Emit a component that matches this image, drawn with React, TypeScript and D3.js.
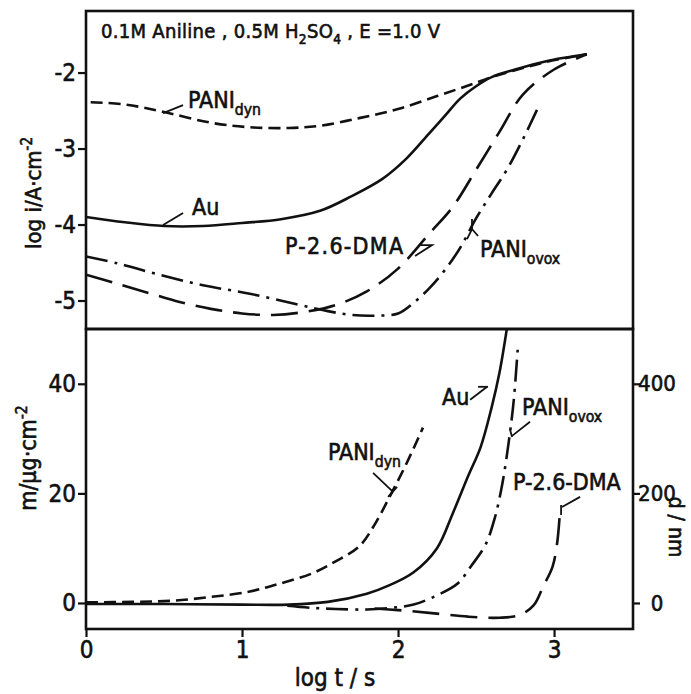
import React, { useEffect, useRef } from 'react';
import * as d3 from 'd3';

// upper panel: log i / A cm-2 against log t / s
const auTopT = [0, 0.25, 0.5, 0.75, 1.0, 1.25, 1.5, 1.7, 1.9, 2.05, 2.2, 2.3, 2.4, 2.5, 2.6, 2.75, 2.95, 3.21];
const auTopI = [-3.9, -3.97, -4.02, -4.02, -3.98, -3.93, -3.82, -3.63, -3.4, -3.14, -2.8, -2.57, -2.34, -2.18, -2.06, -1.96, -1.85, -1.76];

const dynTopT = [0.03, 0.25, 0.5, 0.8, 1.05, 1.3, 1.5, 1.75, 2.0, 2.25, 2.45, 2.6, 2.75, 2.95, 3.21];
const dynTopI = [-2.39, -2.42, -2.52, -2.66, -2.72, -2.73, -2.7, -2.6, -2.48, -2.31, -2.17, -2.06, -1.97, -1.86, -1.76];

const dmaTopT = [0, 0.2, 0.4, 0.6, 0.8, 1.0, 1.2, 1.4, 1.6, 1.8, 2.0, 2.2, 2.35, 2.5, 2.65, 2.8, 3.0, 3.21];
const dmaTopI = [-4.66, -4.78, -4.9, -5.02, -5.11, -5.17, -5.19, -5.15, -5.06, -4.88, -4.58, -4.12, -3.77, -3.28, -2.78, -2.29, -1.96, -1.76];

const ovoxTopT = [0, 0.2, 0.45, 0.75, 1.05, 1.35, 1.55, 1.7, 1.85, 2.0, 2.1, 2.2, 2.3, 2.4, 2.5, 2.6, 2.7, 2.8, 2.9];
const ovoxTopI = [-4.42, -4.51, -4.65, -4.8, -4.91, -5.05, -5.14, -5.19, -5.2, -5.17, -5.03, -4.84, -4.6, -4.3, -3.92, -3.59, -3.27, -2.88, -2.45];

// lower panel: m / ug cm-2 against log t / s
const auBotT = [0, 0.5, 1.0, 1.3, 1.55, 1.8, 1.95, 2.1, 2.25, 2.35, 2.45, 2.53, 2.6, 2.65, 2.7];
const auBotM = [-0.2, -0.2, -0.3, -0.3, 0.2, 1.7, 3.3, 5.6, 10.0, 16.3, 23.2, 28.5, 35.7, 42.0, 50.5];

const dynBotT = [0, 0.3, 0.55, 0.8, 1.05, 1.25, 1.45, 1.6, 1.75, 1.85, 1.95, 2.05, 2.16];
const dynBotM = [0.1, 0.2, 0.4, 1.1, 2.1, 3.6, 5.4, 7.6, 10.3, 14.3, 19.6, 25.2, 32.0];

const ovoxBotT = [1.29, 1.45, 1.6, 1.8, 1.95, 2.1, 2.25, 2.38, 2.47, 2.56, 2.62, 2.67, 2.71, 2.74, 2.77];
const ovoxBotM = [-0.5, -0.9, -1.1, -1.2, -0.9, -0.3, 1.4, 3.5, 6.8, 10.6, 15.5, 22.0, 29.5, 36.5, 47.5];

const dmaBotT = [1.85, 2.0, 2.2, 2.45, 2.65, 2.78, 2.87, 2.93, 2.99, 3.02, 3.04];
const dmaBotM = [-1.0, -1.3, -1.8, -2.5, -2.7, -2.2, -0.4, 3.0, 6.6, 11.0, 17.5];

const xTicks = [0, 1, 2, 3];
const topTicks = [-2, -3, -4, -5];
const botTicks = [0, 20, 40];
const rightTicks = [0, 200, 400];

const FONT = "'DejaVu Sans Condensed', 'Liberation Sans Narrow', sans-serif";
const SHORT = '12,6';
const LONG = '27,11';
const DASHDOT = '22,7,3,7';

type Part = [string, string];

function addText(g, px, py, parts: Part[], size, anchor = 'start') {
  const t = g
    .append('text')
    .attr('x', px)
    .attr('y', py)
    .attr('font-family', FONT)
    .attr('font-size', size)
    .attr('text-anchor', anchor)
    .attr('fill', '#111')
    .attr('stroke', '#111')
    .attr('stroke-width', 0.6);
  let off = 0;
  parts.forEach(([s, kind]) => {
    const target = kind === 'sub' ? size * 0.3 : kind === 'sup' ? -size * 0.4 : 0;
    t.append('tspan')
      .attr('dy', target - off)
      .attr('font-size', kind === 'n' ? size : size * 0.68)
      .text(s);
    off = target;
  });
  return t;
}

const App = () => {
  const svgRef = useRef(null);

  useEffect(() => {
    const svg = d3.select(svgRef.current);
    svg.selectAll('*').remove();

    const x = d3.scaleLinear().domain([0, 3.506]).range([86, 633]);
    const yTop = d3.scaleLinear().domain([-5.375, -1.19]).range([329, 11]);
    const yBot = d3.scaleLinear().domain([-4.75, 50]).range([629, 329]);
    const yRight = d3.scaleLinear().domain([-47.5, 500]).range([629, 329]);

    const defs = svg.append('defs');
    defs.append('clipPath').attr('id', 'clipTop').append('rect')
      .attr('x', 86).attr('y', 11).attr('width', 547).attr('height', 318);
    defs.append('clipPath').attr('id', 'clipBot').append('rect')
      .attr('x', 86).attr('y', 329).attr('width', 547).attr('height', 300);

    const curve = (g, ts, vs, ys, dash) => {
      const line = d3
        .line()
        .x((d) => x(d[0]))
        .y((d) => ys(d[1]))
        .curve(d3.curveCatmullRom.alpha(0.5));
      g.append('path')
        .attr('d', line(ts.map((t, i) => [t, vs[i]])))
        .attr('fill', 'none')
        .attr('stroke', '#111')
        .attr('stroke-width', 2.6)
        .attr('stroke-dasharray', dash)
        .attr('stroke-linejoin', 'round');
    };

    const leader = (g, pts, ys) => {
      g.append('path')
        .attr('d', d3.line().x((d) => x(d[0])).y((d) => ys(d[1]))(pts))
        .attr('fill', 'none')
        .attr('stroke', '#111')
        .attr('stroke-width', 1.8);
    };

    // curves
    const gTop = svg.append('g').attr('clip-path', 'url(#clipTop)');
    curve(gTop, dynTopT, dynTopI, yTop, SHORT);
    curve(gTop, auTopT, auTopI, yTop, null);
    curve(gTop, dmaTopT, dmaTopI, yTop, LONG);
    curve(gTop, ovoxTopT, ovoxTopI, yTop, DASHDOT);

    const gBot = svg.append('g').attr('clip-path', 'url(#clipBot)');
    curve(gBot, dynBotT, dynBotM, yBot, SHORT);
    curve(gBot, auBotT, auBotM, yBot, null);
    curve(gBot, ovoxBotT, ovoxBotM, yBot, DASHDOT);
    curve(gBot, dmaBotT, dmaBotM, yBot, LONG);

    // frames
    [[11, 329], [329, 629]].forEach(([a, b]) => {
      svg.append('rect')
        .attr('x', 86).attr('y', a).attr('width', 547).attr('height', b - a)
        .attr('fill', 'none').attr('stroke', '#111').attr('stroke-width', 2.6);
    });

    // axes
    const styleAxis = (g) => {
      g.select('.domain').remove();
      g.selectAll('line').attr('stroke', '#111').attr('stroke-width', 2.2);
      g.selectAll('text')
        .attr('font-family', FONT)
        .attr('font-size', 24)
        .attr('fill', '#111')
        .attr('stroke', '#111')
        .attr('stroke-width', 0.6);
    };
    svg.append('g').attr('transform', 'translate(86,0)')
      .call(d3.axisLeft(yTop).tickValues(topTicks).tickSize(8).tickPadding(2).tickFormat((d) => String(d)))
      .call(styleAxis);
    svg.append('g').attr('transform', 'translate(86,0)')
      .call(d3.axisLeft(yBot).tickValues(botTicks).tickSize(8).tickPadding(2).tickFormat((d) => String(d)))
      .call(styleAxis);
    svg.append('g').attr('transform', 'translate(0,629)')
      .call(d3.axisBottom(x).tickValues(xTicks).tickSize(8).tickPadding(4).tickFormat((d) => String(d)))
      .call(styleAxis);
    svg.append('g').attr('transform', 'translate(633,0)')
      .call(d3.axisRight(yRight).tickValues(rightTicks).tickSize(7).tickPadding(2).tickFormat((d) => String(d)))
      .call(styleAxis)
      .call((g) => g.selectAll('text').attr('font-size', 22).attr('x', 24).attr('text-anchor', 'middle'));

    // axis titles
    addText(svg, 335, 686, [['log t / s', 'n']], 24, 'middle');
    addText(svg.append('g').attr('transform', 'translate(41,193) rotate(-90)'), 0, 0,
      [['log i/A·cm', 'n'], ['-2', 'sup']], 22, 'middle');
    addText(svg.append('g').attr('transform', 'translate(36,458) rotate(-90)'), 0, 0,
      [['m/µg·cm', 'n'], ['-2', 'sup']], 23, 'middle');
    addText(svg.append('g').attr('transform', 'translate(669,527) rotate(90)'), 0, 0,
      [['d / nm', 'n']], 21, 'middle');

    addText(svg, 101, 38, [['0.1M Aniline , 0.5M H', 'n'], ['2', 'sub'], ['SO', 'n'], ['4', 'sub'], [' , E =1.0 V', 'n']], 20)
      .attr('letter-spacing', 0.3);

    // annotations, upper panel
    addText(svg, x(0.654), yTop(-2.467), [['PANI', 'n'], ['dyn', 'sub']], 23);
    leader(svg, [[0.494, -2.533], [0.622, -2.428]], yTop);
    addText(svg, x(0.68), yTop(-3.875), [['Au', 'n']], 23);
    leader(svg, [[0.494, -4.007], [0.622, -3.849]], yTop);
    addText(svg, x(1.276), yTop(-4.39), [['P-2.6-DMA', 'n']], 23).attr('textLength', 118);
    leader(svg, [[2.135, -4.27], [2.218, -4.27], [2.109, -4.414]], yTop);
    addText(svg, x(2.526), yTop(-4.428), [['PANI', 'n'], ['ovox', 'sub']], 23);
    leader(svg, [[2.442, -4.191], [2.474, -4.059], [2.513, -4.151]], yTop);
    leader(svg, [[2.474, -4.059], [2.474, -3.928]], yTop);

    // annotations, lower panel
    addText(svg, x(2.282), yBot(36.16), [['Au', 'n']], 23);
    leader(svg, [[2.462, 37.08], [2.571, 39.45]], yBot);
    leader(svg, [[2.513, 39.45], [2.577, 39.45]], yBot);
    addText(svg, x(2.795), yBot(34.34), [['PANI', 'n'], ['ovox', 'sub']], 23);
    leader(svg, [[2.846, 33.06], [2.731, 30.5]], yBot);
    leader(svg, [[2.718, 31.6], [2.731, 30.3]], yBot);
    addText(svg, x(1.551), yBot(26.12), [['PANI', 'n'], ['dyn', 'sub']], 23);
    leader(svg, [[1.84, 23.74], [1.968, 20.27]], yBot);
    leader(svg, [[1.936, 19.36], [1.994, 21.19]], yBot);
    addText(svg, x(2.737), yBot(20.64), [['P-2.6-DMA', 'n']], 23);
    leader(svg, [[3.167, 19.36], [3.051, 17.53]], yBot);
    leader(svg, [[3.045, 17.9], [3.045, 16.07]], yBot);
  }, []);

  return (
    <svg
      ref={svgRef}
      width={691}
      height={694}
      style={{ position: 'absolute', left: 0, top: 0, background: '#fff' }}
    ></svg>
  );
};

export default App;
